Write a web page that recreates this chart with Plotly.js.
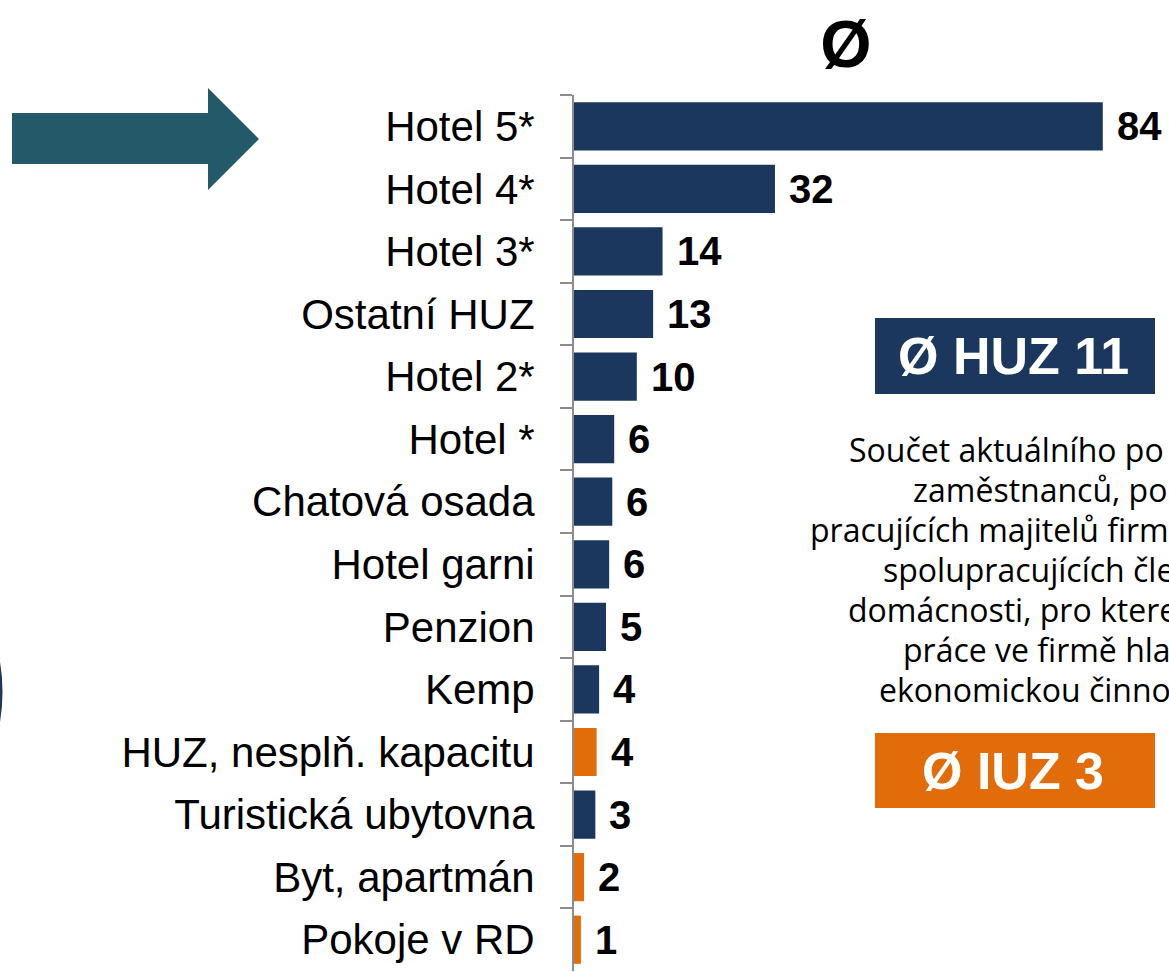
<!DOCTYPE html>
<html>
<head>
<meta charset="utf-8">
<script src="https://cdn.plot.ly/plotly-3.0.1.min.js"></script>
<style>html,body{margin:0;padding:0;background:#fff;overflow:hidden}</style>
</head>
<body>
<div id="chart" style="width:1169px;height:972px"></div>
<script>
// ---- data ----
const categories = ["Hotel 5*", "Hotel 4*", "Hotel 3*", "Ostatní HUZ", "Hotel 2*", "Hotel *",
  "Chatová osada", "Hotel garni", "Penzion", "Kemp", "HUZ, nesplň. kapacitu",
  "Turistická ubytovna", "Byt, apartmán", "Pokoje v RD"];
const values = [84.2, 32.0, 14.1, 12.6, 10.0, 6.4, 6.1, 5.6, 5.1, 4.0, 3.6, 3.4, 1.6, 1.1];
const groups = ["HUZ", "HUZ", "HUZ", "HUZ", "HUZ", "HUZ", "HUZ", "HUZ", "HUZ", "HUZ", "IUZ", "HUZ", "IUZ", "IUZ"];
const titleText = "Ø";
const huzLabel = "Ø HUZ 11";
const iuzLabel = "Ø IUZ 3";
const noteLines = ["Součet aktuálního po", "zaměstnanců, po", "pracujících majitelů firm",
  "spolupracujících čle", "domácnosti, pro ktere", "práce ve firmě hla", "ekonomickou činno"];

// ---- style ----
const NAVY = "#1b375e";
const ORANGE = "#e36c0a";
const TEAL = "#235968";
const W = 1169, H = 972;
const px = x => x / W;
const py = y => 1 - y / H;
const colorOf = { HUZ: NAVY, IUZ: ORANGE };

const trace = {
  type: "bar",
  orientation: "h",
  y: categories,
  x: values,
  marker: { color: groups.map(g => colorOf[g]) },
  hoverinfo: "x+y"
};

const valueAnnotations = categories.map((c, i) => ({
  xref: "x", yref: "y", x: values[i], y: c,
  text: String(Math.round(values[i])),
  showarrow: false, xanchor: "left", yanchor: "middle", xshift: 12,
  font: { family: "Arial, 'Liberation Sans', sans-serif", size: 40, color: "#000", weight: 700 }
}));

const noteStarts = [847, 911, 808, 881, 846, 901, 877];
const noteCenters = [449, 489, 529, 569, 609, 649, 689];
const noteAnnotations = noteLines.map((t, i) => ({
  xref: "paper", yref: "paper", x: px(noteStarts[i]), y: py(noteCenters[i]),
  text: t, showarrow: false, xanchor: "left", yanchor: "middle",
  font: { family: "'Open Sans', 'Noto Sans', sans-serif", size: 32, color: "#000" }
}));

const boxAnnotations = [
  { text: huzLabel, y: py(356) },
  { text: iuzLabel, y: py(771) }
].map(b => ({
  xref: "paper", yref: "paper", x: px(1013), y: b.y, text: b.text,
  showarrow: false, xanchor: "center", yanchor: "middle",
  font: { family: "Arial, 'Liberation Sans', sans-serif", size: 52, color: "#fff", weight: 700 }
}));

const arrowPath = [[12,113],[208,113],[208,88],[259,139],[208,190],[208,164],[12,164]]
  .map((p, i) => (i ? "L" : "M") + px(p[0]) + "," + py(p[1])).join(" ") + " Z";

const shapes = [
  { type: "rect", xref: "paper", yref: "paper", x0: px(875), x1: px(1155), y0: py(318), y1: py(394),
    fillcolor: NAVY, line: { width: 0 } },
  { type: "rect", xref: "paper", yref: "paper", x0: px(875), x1: px(1155), y0: py(733), y1: py(808),
    fillcolor: ORANGE, line: { width: 0 } },
  { type: "path", xref: "paper", yref: "paper", path: arrowPath, fillcolor: TEAL, line: { width: 0 } },
  { type: "circle", xref: "paper", yref: "paper", x0: px(-358.75), x1: px(1.25), y0: py(512), y1: py(872),
    line: { color: NAVY, width: 2.5 } }
];

const layout = {
  width: W, height: H,
  margin: { l: 0, r: 0, t: 0, b: 0, pad: 0 },
  paper_bgcolor: "#fff", plot_bgcolor: "#fff",
  showlegend: false,
  bargap: 0.23,
  title: {
    text: titleText, xref: "container", yref: "container",
    x: px(846), y: py(44), xanchor: "center", yanchor: "middle",
    font: { family: "Arial, 'Liberation Sans', sans-serif", size: 66, color: "#000", weight: 700 }
  },
  xaxis: {
    domain: [px(574), 1], range: [0, (W - 574) / 6.28],
    visible: false, showgrid: false, zeroline: false, fixedrange: true
  },
  yaxis: {
    domain: [py(971), py(95)], type: "category", autorange: "reversed",
    tickson: "boundaries", ticks: "outside", ticklen: 12, tickwidth: 2, tickcolor: "#8c8c8c",
    showline: true, linecolor: "#8c8c8c", linewidth: 2, showgrid: false, zeroline: false,
    ticklabelstandoff: 29,
    tickfont: { family: "Arial, 'Liberation Sans', sans-serif", size: 42, color: "#000" },
    fixedrange: true
  },
  shapes: shapes,
  annotations: valueAnnotations.concat(noteAnnotations, boxAnnotations)
};

Plotly.newPlot("chart", [trace], layout, { displayModeBar: false, staticPlot: true });
</script>
</body>
</html>
